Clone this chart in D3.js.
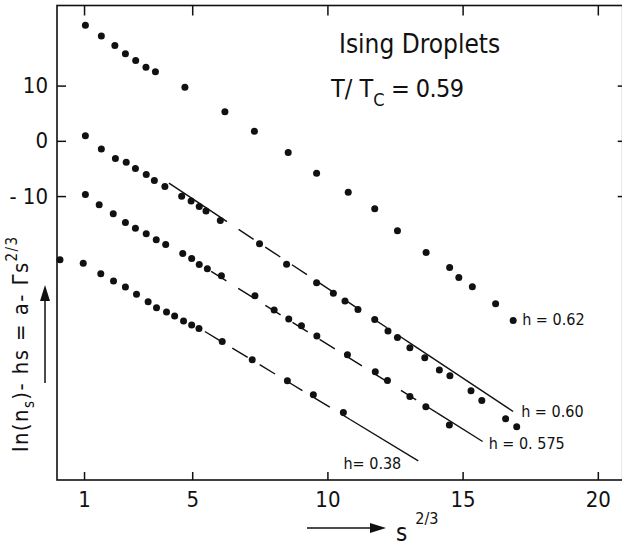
<!DOCTYPE html>
<html>
<head>
<meta charset="utf-8">
<script src="https://cdn.jsdelivr.net/npm/d3@7"></script>
<style>
  html, body { margin: 0; padding: 0; background: #fff; }
  svg { display: block; }
  text { font-family: "DejaVu Sans Condensed", "DejaVu Sans", sans-serif; fill: #111; }
</style>
</head>
<body>
<svg id="chart" width="622" height="551"></svg>
<script>
// Axis ticks
const xTicks = [1, 5, 10, 15, 20];
const yTicks = [10, 0, -10];

// Cluster statistics, one series per field h  (x = s^{2/3})
const h062X = [1.05, 1.64, 2.14, 2.53, 2.91, 3.29, 3.64, 4.73, 6.21, 7.30, 8.55, 9.60, 10.77, 11.75, 12.59, 13.65, 14.52, 14.86, 15.36, 16.22, 16.87];
const h062Y = [20.94, 19.0, 17.25, 15.75, 14.53, 13.34, 12.49, 9.72, 5.25, 1.75, -2.12, -5.85, -9.29, -12.31, -16.29, -20.22, -22.93, -24.74, -26.43, -29.5, -32.52];

const h060X = [1.05, 1.64, 2.16, 2.56, 2.90, 3.30, 3.60, 3.99, 4.61, 4.96, 5.26, 5.51, 6.04, 7.49, 8.49, 9.60, 10.22, 10.65, 11.13, 11.75, 12.24, 12.59, 13.05, 13.60, 14.14, 14.53, 15.31, 15.71, 16.59, 17.00];
const h060Y = [0.90, -1.50, -3.20, -3.86, -5.01, -6.10, -7.19, -8.27, -10.01, -10.91, -11.89, -12.72, -14.43, -18.61, -22.32, -25.70, -27.57, -29.01, -30.53, -32.34, -34.44, -35.60, -37.47, -39.28, -41.50, -42.53, -45.25, -47.00, -50.32, -51.76];

const h0575X = [1.05, 1.56, 2.08, 2.53, 2.90, 3.30, 3.67, 4.02, 4.65, 4.98, 5.26, 5.56, 6.08, 7.32, 8.03, 8.57, 9.04, 9.61, 10.74, 11.77, 12.22, 13.05, 13.64, 14.51];
const h0575Y = [-9.72, -11.58, -13.21, -14.79, -15.84, -16.83, -17.92, -18.77, -20.40, -21.30, -22.39, -23.17, -24.43, -28.05, -30.64, -32.27, -33.48, -35.35, -38.73, -41.81, -43.38, -46.28, -48.14, -51.46];

const h038X = [0.11, 0.97, 1.62, 2.09, 2.53, 2.94, 3.37, 3.68, 4.05, 4.35, 4.68, 4.98, 5.25, 6.11, 7.22, 8.52, 9.48, 10.59];
const h038Y = [-21.54, -22.14, -24.07, -25.38, -26.48, -27.78, -29.14, -30.23, -31.00, -31.73, -32.63, -33.34, -33.99, -36.33, -39.64, -43.44, -45.97, -49.18];

// Straight-line fits a - Γ s^{2/3}: start/end points and the broken (dashed) stretch
const fitLabels   = ["h = 0.60", "h = 0. 575", "h= 0.38"];
const fitX0       = [4.14, 5.70, 5.47];
const fitY0       = [-7.66, -23.62, -34.52];
const fitX1       = [16.87, 15.74, 13.36];
const fitY1       = [-49.0, -54.43, -57.92];
const fitDashFrom = [5.73, 5.70, 5.47];
const fitDashTo   = [13.17, 14.04, 10.84];

const series = [
  { label: "h = 0.62", xs: h062X, ys: h062Y },
  { label: "h = 0.60", xs: h060X, ys: h060Y },
  { label: "h = 0.575", xs: h0575X, ys: h0575Y },
  { label: "h = 0.38", xs: h038X, ys: h038Y }
];

const svg = d3.select("#chart");
const x = d3.scaleLinear().domain([0, 20.92]).range([57, 622.7]);
const y = d3.scaleLinear().domain([-61.4, 24.5]).range([480, 5.5]);
const [plotLeft, plotRight] = x.range();
const [plotBottom, plotTop] = y.range();

// Frame
svg.append("rect")
  .attr("x", plotLeft).attr("y", plotTop)
  .attr("width", plotRight - plotLeft).attr("height", plotBottom - plotTop)
  .attr("fill", "none").attr("stroke", "#111").attr("stroke-width", 1.6);

// Axes with inward ticks
const fmtY = d => d < 0 ? "- " + Math.abs(d) : String(d);
const gB = svg.append("g").attr("transform", `translate(0,${plotBottom})`)
  .call(d3.axisBottom(x).tickValues(xTicks).tickSizeInner(-8).tickSizeOuter(0).tickPadding(11).tickFormat(d3.format("d")));
const gL = svg.append("g").attr("transform", `translate(${plotLeft},0)`)
  .call(d3.axisLeft(y).tickValues(yTicks).tickSizeInner(-9).tickSizeOuter(0).tickPadding(9).tickFormat(fmtY));
const gT = svg.append("g").attr("transform", `translate(0,${plotTop})`)
  .call(d3.axisTop(x).tickValues(xTicks).tickSizeInner(-10).tickSizeOuter(0).tickFormat(""));
const gR = svg.append("g").attr("transform", `translate(${plotRight},0)`)
  .call(d3.axisRight(y).tickValues(yTicks).tickSizeInner(-5).tickSizeOuter(0).tickFormat(""));

[gB, gL, gT, gR].forEach(g => {
  g.select(".domain").remove();
  g.selectAll(".tick line").attr("stroke", "#111").attr("stroke-width", 1.5);
  g.selectAll(".tick text").attr("fill", "#111")
    .style("font-family", '"DejaVu Sans Condensed", "DejaVu Sans", sans-serif')
    .style("font-size", "22px");
});

// Fitted lines: solid where unbroken, dashed across the broken stretch
const fitLine = (i, xa, xb) => {
  const t = v => fitY0[i] + (fitY1[i] - fitY0[i]) * (v - fitX0[i]) / (fitX1[i] - fitX0[i]);
  return [[x(xa), y(t(xa))], [x(xb), y(t(xb))]];
};
const line = d3.line();
const fits = svg.append("g").attr("fill", "none").attr("stroke", "#111").attr("stroke-width", 1.4);
fitLabels.forEach((lab, i) => {
  if (fitDashFrom[i] > fitX0[i])
    fits.append("path").attr("d", line(fitLine(i, fitX0[i], fitDashFrom[i])));
  fits.append("path").attr("d", line(fitLine(i, fitDashFrom[i], fitDashTo[i])))
    .attr("stroke-dasharray", "18,14");
  fits.append("path").attr("d", line(fitLine(i, fitDashTo[i], fitX1[i])));
});

// Data points
series.forEach(s => {
  svg.append("g").selectAll("circle")
    .data(d3.zip(s.xs, s.ys))
    .join("circle")
    .attr("cx", d => x(d[0])).attr("cy", d => y(d[1]))
    .attr("r", 3.5).attr("fill", "#111");
});

// Curve labels
const labelFont = 16;
const h062Last = h062X.length - 1;
svg.append("text").attr("x", x(h062X[h062Last]) + 9).attr("y", y(h062Y[h062Last]) + 5)
  .style("font-size", labelFont + "px").text("h = 0.62");
svg.append("text").attr("x", x(fitX1[0]) + 8).attr("y", y(fitY1[0]) + 5)
  .style("font-size", labelFont + "px").text(fitLabels[0]);
svg.append("text").attr("x", x(fitX1[1]) + 6).attr("y", y(fitY1[1]) + 8)
  .style("font-size", labelFont + "px").text(fitLabels[1]);
svg.append("text").attr("x", x(fitX1[2]) - 17).attr("y", y(fitY1[2]) + 8)
  .attr("text-anchor", "end")
  .style("font-size", labelFont + "px").text(fitLabels[2]);

// Title block
svg.append("text").attr("x", 339).attr("y", 53).style("font-size", "26px").text("Ising Droplets");
const tt = svg.append("text").attr("x", 331).attr("y", 97).style("font-size", "25px");
tt.append("tspan").text("T/ T");
tt.append("tspan").attr("dy", 9).style("font-size", "18px").text("C");
tt.append("tspan").attr("dy", -9).style("letter-spacing", "-0.6px").text(" = 0.59");

// Y-axis title with arrow
const yl = svg.append("text")
  .attr("transform", "translate(28,452) rotate(-90)")
  .style("font-size", "22px").style("letter-spacing", "1.4px");
yl.append("tspan").text("ln(n");
yl.append("tspan").attr("dy", 6).style("font-size", "15px").text("s");
yl.append("tspan").attr("dy", -6).text(")- hs = a- Γs");
yl.append("tspan").attr("dy", -11).style("font-size", "15px").text("2/3");

svg.append("line").attr("x1", 45).attr("x2", 45).attr("y1", 383).attr("y2", 298)
  .attr("stroke", "#111").attr("stroke-width", 1.5);
svg.append("path").attr("d", "M45,285 L40,301 L50,301 Z").attr("fill", "#111");

// X-axis title with arrow
svg.append("line").attr("x1", 307).attr("x2", 372).attr("y1", 528).attr("y2", 528)
  .attr("stroke", "#111").attr("stroke-width", 1.5);
svg.append("path").attr("d", "M386,528 L370,523 L370,533 Z").attr("fill", "#111");
const xl = svg.append("text").attr("x", 396).attr("y", 541).style("font-size", "24px");
xl.append("tspan").text("s");
xl.append("tspan").attr("dx", 8).attr("dy", -17).style("font-size", "16px").text("2/3");
</script>
</body>
</html>
